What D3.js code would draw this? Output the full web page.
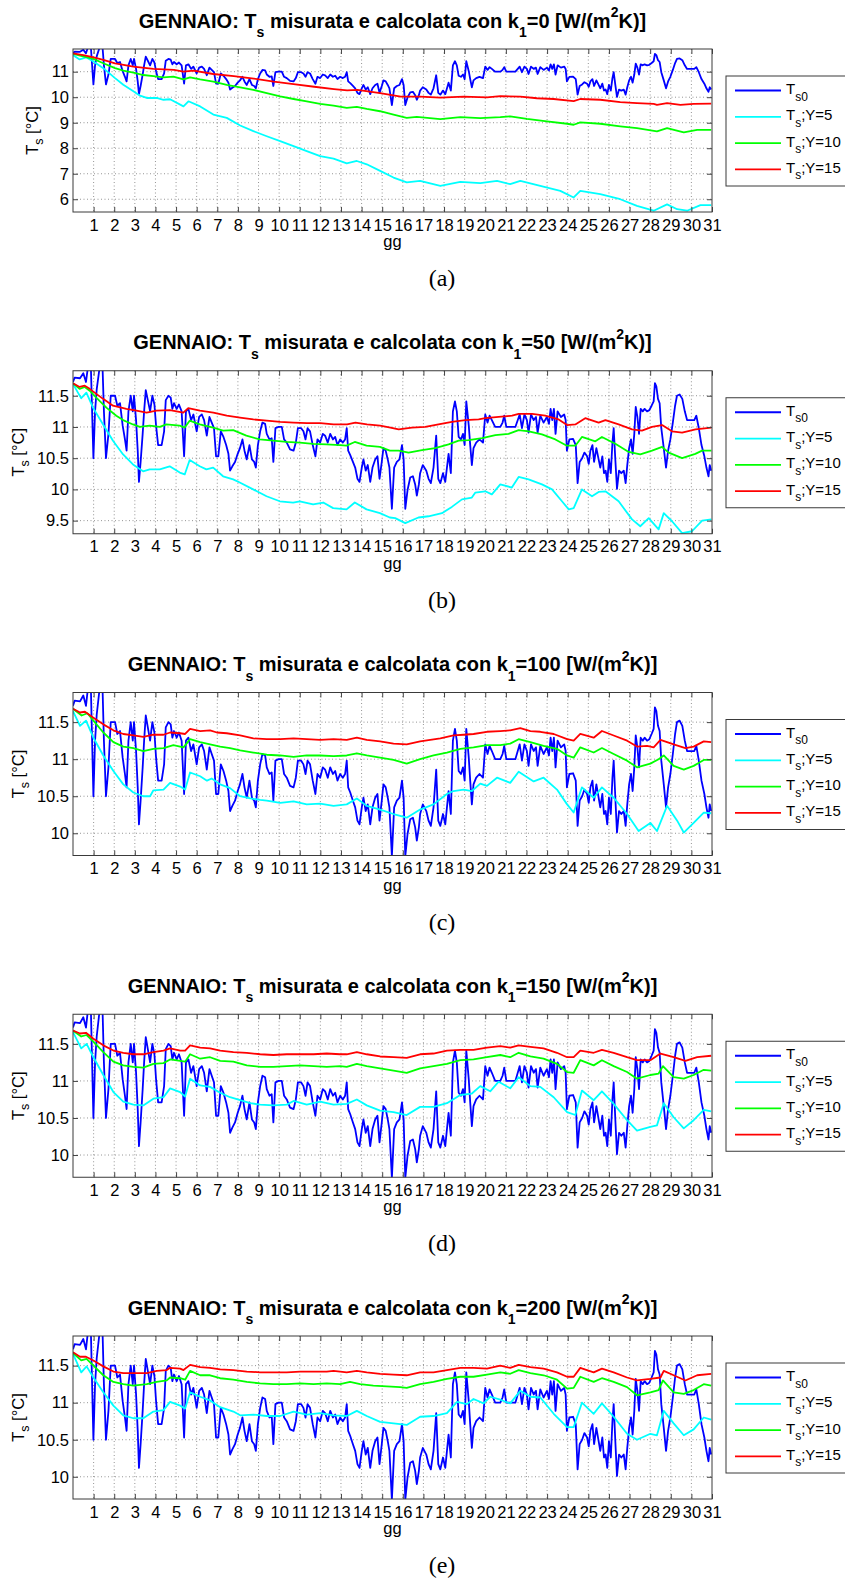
<!DOCTYPE html>
<html>
<head>
<meta charset="utf-8">
<script src="https://cdn.jsdelivr.net/npm/d3@7"></script>
<style>
  body { margin: 0; background: #fff; }
  svg { display: block; }
  text { font-family: "Liberation Sans", Arial, sans-serif; fill: #000; }
</style>
</head>
<body>
<script>
// measured surface temperature (same in every panel), [day, °C]
var ts0 = [[0,11.72],[0.08,11.79],[0.34,11.78],[0.5,11.86],[0.63,11.72],[0.74,12.0],[0.86,12.05],[0.99,10.5],[1.07,11.25],[1.15,11.6],[1.31,12.0],[1.42,12.1],[1.5,11.25],[1.6,10.5],[1.72,10.89],[1.83,11.5],[2.04,11.5],[2.15,11.34],[2.28,11.38],[2.41,11.02],[2.52,10.8],[2.6,10.62],[2.69,11.25],[2.8,11.5],[2.9,11.25],[2.96,11.5],[3.06,11.11],[3.14,10.62],[3.2,10.12],[3.28,10.44],[3.38,10.89],[3.45,11.25],[3.53,11.59],[3.63,11.43],[3.74,11.25],[3.85,11.5],[3.95,11.36],[4.03,11.02],[4.13,10.71],[4.3,10.71],[4.42,10.93],[4.5,11.43],[4.63,11.5],[4.74,11.47],[4.82,11.29],[4.9,11.38],[5.03,11.29],[5.14,11.36],[5.27,11.25],[5.39,10.53],[5.48,11.25],[5.6,11.29],[5.73,11.11],[5.84,11.2],[6.0,10.93],[6.12,11.16],[6.25,11.2],[6.36,11.11],[6.49,10.86],[6.62,11.16],[6.73,11.07],[6.84,10.98],[6.94,10.53],[7.05,10.53],[7.17,10.93],[7.3,10.84],[7.43,10.71],[7.54,10.57],[7.62,10.3],[7.73,10.37],[7.86,10.44],[7.99,10.57],[8.1,10.66],[8.22,10.8],[8.32,10.62],[8.43,10.48],[8.56,10.71],[8.68,10.48],[8.79,10.44],[8.87,10.35],[8.97,10.71],[9.08,10.93],[9.19,11.07],[9.32,11.05],[9.4,10.89],[9.53,10.8],[9.64,10.82],[9.72,10.44],[9.82,10.98],[9.97,11.0],[10.13,11.0],[10.24,10.8],[10.37,10.75],[10.53,10.64],[10.7,10.62],[10.81,10.75],[10.91,10.98],[11.07,10.98],[11.18,10.93],[11.28,10.8],[11.38,10.98],[11.5,10.93],[11.63,10.71],[11.76,10.53],[11.86,10.8],[11.99,10.75],[12.12,10.89],[12.23,10.86],[12.36,10.75],[12.48,10.89],[12.61,10.8],[12.72,10.84],[12.83,10.71],[12.96,10.8],[13.09,10.75],[13.2,10.8],[13.28,10.98],[13.35,10.62],[13.45,10.55],[13.58,10.44],[13.69,10.35],[13.8,10.17],[13.9,10.12],[14.01,10.35],[14.09,10.48],[14.2,10.3],[14.3,10.39],[14.42,10.12],[14.53,10.35],[14.66,10.48],[14.77,10.53],[14.87,10.17],[14.98,10.44],[15.06,10.66],[15.17,10.62],[15.27,10.48],[15.35,10.35],[15.47,9.69],[15.58,10.35],[15.71,10.44],[15.84,10.48],[15.96,10.71],[16.04,10.48],[16.12,9.69],[16.23,9.99],[16.36,10.19],[16.49,10.21],[16.6,10.08],[16.68,9.9],[16.78,10.08],[16.84,10.26],[16.97,10.39],[17.14,10.3],[17.25,10.17],[17.36,10.1],[17.49,10.35],[17.62,10.86],[17.72,10.17],[17.82,10.1],[17.95,10.26],[18.06,10.12],[18.22,10.57],[18.33,10.26],[18.43,11.25],[18.53,11.41],[18.62,11.25],[18.71,10.84],[18.82,10.8],[18.92,10.89],[19.0,10.71],[19.08,11.41],[19.2,11.02],[19.27,10.71],[19.35,10.39],[19.43,10.66],[19.56,10.75],[19.72,10.8],[19.89,10.75],[20.0,11.2],[20.11,11.07],[20.21,11.18],[20.32,11.11],[20.48,11.0],[20.73,11.0],[20.84,11.07],[20.92,11.18],[21.02,11.0],[21.21,11.0],[21.46,11.0],[21.67,11.2],[21.78,10.98],[21.9,11.2],[22.02,11.11],[22.1,10.91],[22.22,11.2],[22.35,11.11],[22.46,11.16],[22.54,10.91],[22.67,11.18],[22.83,11.07],[22.99,11.16],[23.09,11.05],[23.17,11.29],[23.25,11.11],[23.33,11.29],[23.41,10.89],[23.51,11.25],[23.67,11.16],[23.83,11.2],[23.9,11.11],[23.96,10.62],[24.08,10.8],[24.26,10.81],[24.39,10.71],[24.48,10.1],[24.58,10.44],[24.7,10.5],[24.81,10.59],[24.94,10.53],[25.02,10.41],[25.1,10.62],[25.2,10.71],[25.28,10.44],[25.39,10.66],[25.5,10.48],[25.58,10.35],[25.68,10.53],[25.76,10.26],[25.84,10.3],[25.92,10.12],[26.0,10.48],[26.09,10.26],[26.17,10.75],[26.23,10.98],[26.31,10.48],[26.39,10.01],[26.49,10.3],[26.6,10.26],[26.72,10.3],[26.81,10.1],[26.89,10.39],[26.98,10.66],[27.07,10.8],[27.15,10.57],[27.23,10.89],[27.3,11.32],[27.38,11.16],[27.46,10.89],[27.54,11.29],[27.64,11.25],[27.73,11.29],[27.85,11.25],[27.96,11.27],[28.07,11.34],[28.17,11.41],[28.23,11.7],[28.3,11.65],[28.38,11.45],[28.46,11.38],[28.54,10.98],[28.66,10.66],[28.77,10.35],[28.87,10.62],[28.98,10.8],[29.1,11.07],[29.21,11.34],[29.3,11.5],[29.43,11.52],[29.56,11.45],[29.68,11.25],[29.79,11.11],[29.98,11.11],[30.14,11.11],[30.24,11.18],[30.36,10.98],[30.49,10.71],[30.63,10.53],[30.73,10.35],[30.83,10.21],[30.89,10.39],[30.96,10.3]];

// k1 = 0
var k0Y5 = [[0,11.65],[0.32,11.48],[0.65,11.56],[0.99,11.4],[1.47,11.14],[2.04,10.75],[2.44,10.49],[2.93,10.23],[3.25,10.06],[3.58,9.97],[4.06,9.97],[4.39,9.9],[4.71,9.92],[5.36,9.64],[5.6,9.84],[6.17,9.64],[6.81,9.32],[7.46,9.19],[8.11,8.89],[8.75,8.67],[9.4,8.47],[10.05,8.28],[10.7,8.08],[11.34,7.89],[11.99,7.69],[12.64,7.59],[13.28,7.41],[13.77,7.5],[14.25,7.37],[14.9,7.11],[15.55,6.85],[16.19,6.66],[16.84,6.72],[17.82,6.52],[18.79,6.68],[19.76,6.63],[20.57,6.72],[21.21,6.59],[21.7,6.72],[22.67,6.52],[23.64,6.33],[24.29,6.07],[24.61,6.33],[25.58,6.2],[26.55,6.0],[27.36,5.74],[28.17,5.55],[28.82,5.8],[29.31,5.61],[29.79,5.55],[30.44,5.77],[30.96,5.77]];
var k0Y10 = [[0,11.7],[0.49,11.6],[0.99,11.5],[1.47,11.33],[2.04,11.14],[2.44,11.04],[2.93,10.96],[3.41,10.87],[3.9,10.83],[4.39,10.78],[4.87,10.81],[5.36,10.7],[5.68,10.78],[6.17,10.7],[6.81,10.61],[7.46,10.48],[8.11,10.39],[8.75,10.29],[9.4,10.16],[10.05,10.03],[10.7,9.93],[11.34,9.84],[11.99,9.74],[12.64,9.67],[13.28,9.58],[13.77,9.62],[14.25,9.54],[14.9,9.45],[15.55,9.32],[16.19,9.19],[16.68,9.23],[17.82,9.14],[18.79,9.22],[19.76,9.18],[20.73,9.22],[21.21,9.25],[22.02,9.15],[22.99,9.05],[23.97,8.96],[24.29,8.92],[24.61,9.01],[25.58,8.96],[26.55,8.86],[27.36,8.79],[28.33,8.66],[28.82,8.79],[29.63,8.62],[30.28,8.72],[30.96,8.72]];
var k0Y15 = [[0,11.72],[0.5,11.65],[1,11.56],[1.47,11.46],[2.04,11.33],[2.93,11.2],[3.9,11.11],[4.9,11.07],[5.36,11.0],[5.85,11.04],[6.8,10.91],[7.8,10.83],[8.77,10.73],[9.74,10.61],[10.7,10.51],[11.7,10.41],[12.66,10.32],[13.3,10.27],[13.8,10.29],[14.9,10.16],[15.9,10.02],[16.84,10.02],[17.82,9.98],[18.95,10.02],[20.08,9.99],[20.73,10.04],[21.7,10.02],[22.51,9.96],[23.32,9.93],[24.29,9.85],[24.61,9.93],[25.58,9.9],[26.55,9.81],[27.36,9.77],[28.17,9.74],[28.33,9.7],[28.82,9.77],[29.47,9.7],[30.11,9.74],[30.96,9.75]];

// k1 = 50
var k50Y5 = [[0,11.69],[0.24,11.55],[0.4,11.46],[0.65,11.55],[0.97,11.31],[1.46,11.04],[1.94,10.78],[2.43,10.56],[2.91,10.4],[3.4,10.29],[3.72,10.32],[4.21,10.32],[4.69,10.37],[5.18,10.27],[5.42,10.24],[5.66,10.47],[6.15,10.37],[6.47,10.32],[6.8,10.35],[7.28,10.21],[7.77,10.16],[8.09,10.11],[8.74,10.0],[9.39,9.89],[10.03,9.81],[10.68,9.79],[11.0,9.81],[11.65,9.76],[12.14,9.79],[12.62,9.7],[13.27,9.68],[13.67,9.79],[14.24,9.68],[14.89,9.62],[15.37,9.55],[15.63,9.54],[16.12,9.46],[16.76,9.55],[17.25,9.57],[17.9,9.62],[18.38,9.72],[18.87,9.84],[19.35,9.87],[19.52,9.95],[20.0,9.97],[20.32,9.92],[20.73,10.08],[21.29,10.03],[21.62,10.2],[22.1,10.16],[22.75,10.08],[23.24,10.0],[23.72,9.81],[24.05,9.68],[24.29,9.7],[24.69,10.0],[25.18,9.89],[25.5,9.96],[25.83,9.97],[26.47,9.81],[27.12,9.52],[27.52,9.41],[27.93,9.54],[28.41,9.36],[28.66,9.62],[29.06,9.49],[29.55,9.3],[30.03,9.33],[30.52,9.5],[30.97,9.52]];
var k50Y10 = [[0,11.7],[0.32,11.61],[0.57,11.64],[0.81,11.58],[1.13,11.47],[1.62,11.31],[2.1,11.18],[2.43,11.11],[2.91,11.04],[3.24,11.0],[3.72,11.02],[4.21,11.0],[4.53,11.04],[5.18,11.02],[5.42,10.99],[5.66,11.1],[6.15,11.04],[6.8,10.99],[7.28,10.94],[7.77,10.95],[8.41,10.86],[9.06,10.8],[9.71,10.78],[10.36,10.76],[11.0,10.75],[11.65,10.73],[12.3,10.72],[12.94,10.71],[13.27,10.7],[13.67,10.76],[14.24,10.7],[14.89,10.68],[15.37,10.62],[15.8,10.62],[16.28,10.59],[16.93,10.63],[17.57,10.66],[18.22,10.72],[18.71,10.78],[19.19,10.79],[19.85,10.82],[20.49,10.87],[21.13,10.89],[21.62,10.95],[22.11,10.93],[22.75,10.88],[23.4,10.8],[23.96,10.7],[24.37,10.7],[24.69,10.84],[25.34,10.77],[25.66,10.84],[26.31,10.73],[26.96,10.6],[27.52,10.56],[28.09,10.62],[28.58,10.68],[28.9,10.59],[29.55,10.5],[30.19,10.57],[30.52,10.62],[30.97,10.62]];
var k50Y15 = [[0,11.7],[0.32,11.64],[0.57,11.66],[0.81,11.61],[1.13,11.53],[1.46,11.45],[1.94,11.34],[2.59,11.29],[3.08,11.26],[3.57,11.23],[4.05,11.26],[4.7,11.27],[5.35,11.23],[5.59,11.3],[6.16,11.26],[6.81,11.23],[7.46,11.18],[8.1,11.15],[8.75,11.12],[9.4,11.1],[10.05,11.08],[10.7,11.07],[11.35,11.06],[12.0,11.06],[12.64,11.04],[13.3,11.04],[13.7,11.07],[14.26,11.04],[14.9,11.02],[15.4,10.99],[15.8,10.96],[16.44,10.99],[17.09,11.0],[17.73,11.04],[18.38,11.08],[19.03,11.11],[19.68,11.12],[20.0,11.14],[20.65,11.16],[21.3,11.18],[21.62,11.21],[22.27,11.21],[22.91,11.18],[23.56,11.12],[23.97,11.03],[24.37,11.04],[24.85,11.14],[25.5,11.07],[25.83,11.11],[26.47,11.04],[27.12,10.96],[27.6,10.94],[28.09,11.0],[28.58,11.03],[29.06,10.93],[29.55,10.91],[30.2,10.96],[30.97,10.99]];

// k1 = 100
var k100Y5 = [[0,11.65],[0.34,11.45],[0.63,11.52],[0.99,11.29],[1.47,11.05],[1.96,10.84],[2.44,10.66],[2.93,10.55],[3.41,10.5],[3.74,10.5],[3.9,10.58],[4.39,10.59],[4.71,10.68],[5.2,10.63],[5.44,10.59],[5.68,10.82],[6.17,10.77],[6.5,10.71],[6.73,10.74],[7.14,10.66],[7.62,10.61],[8.11,10.5],[8.6,10.47],[9.08,10.45],[9.4,10.44],[10.05,10.41],[10.7,10.43],[11.34,10.39],[11.99,10.4],[12.64,10.37],[13.28,10.39],[13.77,10.47],[14.25,10.37],[14.9,10.32],[15.55,10.26],[16.19,10.21],[16.84,10.32],[17.49,10.39],[18.14,10.53],[18.46,10.57],[18.95,10.59],[19.35,10.57],[19.76,10.67],[20.08,10.64],[20.57,10.75],[21.21,10.68],[21.62,10.83],[22.35,10.7],[22.83,10.75],[23.48,10.59],[23.97,10.39],[24.29,10.28],[24.69,10.62],[25.26,10.48],[25.66,10.62],[26.23,10.48],[26.88,10.26],[27.44,10.03],[28.01,10.14],[28.33,10.03],[28.82,10.37],[29.31,10.17],[29.63,10.01],[30.11,10.14],[30.6,10.28],[30.96,10.27]];
var k100Y10 = [[0,11.68],[0.42,11.59],[0.7,11.62],[0.99,11.52],[1.47,11.36],[1.96,11.23],[2.44,11.17],[2.93,11.15],[3.41,11.11],[3.9,11.14],[4.39,11.15],[4.87,11.19],[5.36,11.16],[5.68,11.27],[6.17,11.23],[6.65,11.2],[7.14,11.17],[7.62,11.15],[8.11,11.12],[8.75,11.09],[9.4,11.06],[10.05,11.05],[10.7,11.03],[11.34,11.05],[11.99,11.05],[12.64,11.04],[13.28,11.05],[13.77,11.08],[14.25,11.05],[14.9,11.02],[15.55,10.99],[16.19,10.94],[16.84,11.0],[17.49,11.05],[18.14,11.09],[18.79,11.14],[19.43,11.16],[20.08,11.19],[20.73,11.19],[21.21,11.21],[21.62,11.27],[22.19,11.23],[22.83,11.18],[23.48,11.14],[23.97,11.05],[24.29,11.02],[24.61,11.16],[25.26,11.09],[25.66,11.15],[26.23,11.07],[26.88,10.98],[27.36,10.89],[28.01,10.94],[28.41,11.0],[28.66,11.05],[29.14,10.91],[29.63,10.86],[30.11,10.91],[30.6,10.99],[30.96,10.99]];
var k100Y15 = [[0,11.68],[0.34,11.63],[0.58,11.64],[0.99,11.56],[1.47,11.47],[1.96,11.39],[2.44,11.34],[2.93,11.32],[3.41,11.3],[3.9,11.33],[4.39,11.33],[4.71,11.36],[5.2,11.35],[5.44,11.34],[5.68,11.41],[6.17,11.38],[6.65,11.39],[6.98,11.36],[7.46,11.35],[8.11,11.32],[8.75,11.28],[9.4,11.27],[10.05,11.27],[10.7,11.28],[11.34,11.27],[11.99,11.26],[12.64,11.27],[13.28,11.26],[13.77,11.29],[14.25,11.26],[14.9,11.24],[15.55,11.21],[16.19,11.2],[16.84,11.24],[17.33,11.26],[17.82,11.28],[18.46,11.32],[18.95,11.33],[19.43,11.34],[20.08,11.37],[20.73,11.38],[21.21,11.39],[21.7,11.42],[22.19,11.38],[22.67,11.37],[23.32,11.34],[23.97,11.27],[24.29,11.25],[24.61,11.34],[25.26,11.29],[25.66,11.38],[26.23,11.32],[26.88,11.25],[27.36,11.17],[27.85,11.18],[28.17,11.16],[28.5,11.26],[29.14,11.2],[29.71,11.15],[30.11,11.17],[30.6,11.24],[30.96,11.23]];

// k1 = 150
var k150Y5 = [[0,11.66],[0.4,11.44],[0.66,11.5],[0.99,11.32],[1.47,11.08],[1.96,10.85],[2.44,10.72],[2.93,10.68],[3.41,10.67],[3.9,10.76],[4.39,10.78],[4.71,10.9],[5.2,10.85],[5.44,10.79],[5.68,11.03],[6.17,10.94],[6.65,10.92],[7.14,10.84],[7.62,10.78],[8.11,10.74],[8.6,10.7],[9.08,10.68],[9.72,10.67],[10.37,10.68],[10.7,10.73],[11.34,10.68],[11.99,10.72],[12.64,10.68],[13.28,10.69],[13.77,10.75],[14.25,10.67],[14.9,10.6],[15.55,10.58],[16.19,10.54],[16.84,10.65],[17.49,10.65],[18.14,10.7],[18.79,10.81],[19.35,10.83],[19.76,10.93],[20.24,10.86],[20.65,10.99],[21.21,10.9],[21.62,11.05],[22.19,10.93],[22.67,10.92],[23.32,10.78],[23.97,10.58],[24.37,10.54],[24.69,10.87],[25.26,10.74],[25.66,10.86],[26.23,10.69],[26.88,10.47],[27.36,10.33],[28.01,10.38],[28.33,10.4],[28.66,10.7],[29.14,10.51],[29.63,10.36],[30.11,10.47],[30.6,10.61],[30.96,10.59]];
var k150Y10 = [[0,11.68],[0.4,11.6],[0.66,11.62],[0.99,11.53],[1.47,11.39],[1.96,11.26],[2.44,11.21],[2.93,11.19],[3.41,11.18],[3.9,11.23],[4.39,11.24],[4.71,11.29],[5.2,11.27],[5.44,11.26],[5.68,11.36],[6.17,11.3],[6.65,11.32],[7.14,11.27],[7.78,11.26],[8.43,11.21],[9.08,11.19],[9.72,11.19],[10.37,11.2],[11.02,11.21],[11.67,11.2],[12.31,11.19],[12.96,11.2],[13.28,11.19],[13.77,11.23],[14.25,11.2],[14.9,11.17],[15.55,11.14],[16.19,11.11],[16.84,11.17],[17.49,11.2],[18.14,11.23],[18.79,11.28],[19.43,11.29],[20.08,11.32],[20.73,11.35],[21.21,11.32],[21.62,11.38],[22.19,11.33],[22.83,11.3],[23.48,11.23],[23.97,11.12],[24.29,11.11],[24.61,11.28],[25.26,11.21],[25.66,11.28],[26.23,11.2],[26.88,11.12],[27.36,11.03],[28.01,11.08],[28.41,11.1],[28.62,11.2],[29.14,11.05],[29.63,11.03],[30.11,11.08],[30.6,11.15],[30.96,11.14]];
var k150Y15 = [[0,11.68],[0.34,11.64],[0.63,11.65],[0.99,11.57],[1.47,11.48],[1.96,11.41],[2.44,11.38],[2.93,11.36],[3.41,11.36],[3.9,11.39],[4.39,11.41],[4.71,11.44],[5.2,11.41],[5.44,11.41],[5.68,11.48],[6.17,11.45],[6.65,11.44],[7.14,11.41],[7.78,11.39],[8.43,11.38],[9.08,11.36],[9.72,11.35],[10.37,11.36],[11.02,11.36],[11.67,11.36],[12.31,11.37],[12.96,11.36],[13.28,11.36],[13.77,11.39],[14.25,11.36],[14.9,11.33],[15.55,11.32],[16.19,11.31],[16.84,11.36],[17.49,11.37],[18.14,11.41],[18.79,11.42],[19.43,11.42],[20.08,11.45],[20.73,11.47],[21.21,11.45],[21.62,11.48],[22.19,11.46],[22.83,11.44],[23.48,11.38],[23.97,11.32],[24.29,11.32],[24.61,11.41],[25.26,11.38],[25.66,11.42],[26.23,11.38],[26.88,11.32],[27.36,11.28],[28.01,11.28],[28.5,11.37],[29.14,11.32],[29.71,11.27],[30.28,11.32],[30.96,11.34]];

// k1 = 200
var k200Y5 = [[0,11.66],[0.4,11.41],[0.66,11.49],[0.99,11.34],[1.47,11.14],[1.96,10.96],[2.44,10.83],[2.93,10.79],[3.41,10.79],[3.9,10.88],[4.39,10.9],[4.71,11.01],[5.2,10.96],[5.44,10.92],[5.68,11.14],[6.17,11.08],[6.65,11.03],[7.14,10.94],[7.78,10.88],[8.11,10.83],[8.75,10.84],[9.4,10.82],[10.05,10.82],[10.7,10.88],[11.34,10.84],[11.99,10.86],[12.64,10.83],[13.28,10.82],[13.77,10.89],[14.25,10.82],[14.9,10.74],[15.55,10.72],[16.19,10.7],[16.84,10.81],[17.49,10.82],[18.14,10.86],[18.63,11.01],[19.11,10.98],[19.43,11.05],[19.92,10.99],[20.24,11.08],[20.73,11.04],[21.21,10.99],[21.7,11.16],[22.19,11.08],[22.67,11.07],[23.32,10.85],[23.97,10.67],[24.29,10.67],[24.69,11.0],[25.26,10.85],[25.66,10.99],[26.23,10.81],[26.88,10.58],[27.36,10.5],[28.01,10.58],[28.33,10.56],[28.66,10.89],[29.14,10.72],[29.63,10.56],[30.11,10.64],[30.6,10.8],[30.96,10.77]];
var k200Y10 = [[0,11.67],[0.4,11.57],[0.66,11.59],[0.99,11.5],[1.47,11.37],[1.96,11.28],[2.44,11.25],[2.93,11.23],[3.58,11.25],[4.06,11.28],[4.55,11.3],[4.71,11.34],[5.2,11.33],[5.44,11.31],[5.68,11.43],[6.17,11.37],[6.65,11.37],[7.14,11.33],[7.78,11.31],[8.43,11.28],[9.08,11.26],[9.72,11.25],[10.37,11.25],[11.02,11.26],[11.67,11.25],[12.31,11.26],[12.96,11.25],[13.44,11.28],[13.93,11.25],[14.57,11.23],[15.22,11.22],[15.87,11.21],[16.19,11.2],[16.84,11.25],[17.49,11.28],[18.14,11.32],[18.79,11.35],[19.43,11.35],[20.08,11.38],[20.73,11.41],[21.21,11.39],[21.62,11.44],[22.19,11.4],[22.83,11.37],[23.48,11.31],[23.97,11.19],[24.29,11.2],[24.61,11.35],[25.26,11.28],[25.66,11.33],[26.23,11.28],[26.88,11.21],[27.36,11.1],[28.01,11.14],[28.41,11.17],[28.62,11.3],[29.14,11.14],[29.63,11.12],[30.11,11.17],[30.6,11.25],[30.96,11.23]];
var k200Y15 = [[0,11.68],[0.34,11.62],[0.63,11.62],[0.99,11.57],[1.47,11.49],[1.96,11.42],[2.44,11.4],[2.93,11.4],[3.58,11.4],[4.06,11.43],[4.55,11.44],[4.71,11.47],[5.2,11.46],[5.36,11.44],[5.68,11.51],[6.17,11.48],[6.65,11.47],[7.14,11.45],[7.78,11.44],[8.43,11.42],[9.08,11.41],[9.72,11.41],[10.37,11.41],[11.02,11.42],[11.67,11.42],[12.31,11.42],[12.64,11.43],[13.28,11.41],[13.77,11.43],[14.25,11.41],[14.9,11.39],[15.55,11.38],[16.19,11.37],[16.84,11.41],[17.49,11.41],[18.14,11.44],[18.79,11.47],[19.43,11.47],[20.08,11.46],[20.73,11.5],[21.21,11.47],[21.62,11.51],[22.19,11.48],[22.83,11.46],[23.48,11.41],[23.97,11.35],[24.29,11.35],[24.61,11.47],[25.26,11.41],[25.66,11.46],[26.23,11.41],[26.88,11.34],[27.36,11.3],[28.01,11.32],[28.5,11.34],[28.66,11.43],[29.14,11.37],[29.71,11.3],[30.28,11.37],[30.96,11.39]];

var kValues = [0, 50, 100, 150, 200];
var captions = ["(a)", "(b)", "(c)", "(d)", "(e)"];
var yDomains = [[5.5, 11.89], [9.29, 11.9], [9.7, 11.9], [9.7, 11.9], [9.7, 11.9]];
var yTickValues = [[6, 7, 8, 9, 10, 11], [9.5, 10, 10.5, 11, 11.5], [10, 10.5, 11, 11.5], [10, 10.5, 11, 11.5], [10, 10.5, 11, 11.5]];
var xTickValues = d3.range(1, 32);
var modelSeries = [
  [k0Y5, k0Y10, k0Y15],
  [k50Y5, k50Y10, k50Y15],
  [k100Y5, k100Y10, k100Y15],
  [k150Y5, k150Y10, k150Y15],
  [k200Y5, k200Y10, k200Y15]
];
var legendLabels = [
  [["T", "n"], ["s0", "b"]],
  [["T", "n"], ["s", "b"], [";Y=5", "n"]],
  [["T", "n"], ["s", "b"], [";Y=10", "n"]],
  [["T", "n"], ["s", "b"], [";Y=15", "n"]]
];
var colors = ["#0000ff", "#00ffff", "#00ff00", "#ff0000"];

var width = 845, height = 1581;
var margin = {left: 73},
    plotW = 639,
    plotH = 163,
    panelStep = 321.75,
    firstTop = 49,
    fs = 16.5;

var svg = d3.select("body").append("svg")
  .attr("width", width)
  .attr("height", height);

// text with sub/superscripts, parts = [[string, "n"|"b"|"p"], ...]
function richText(el, parts, size, subSize, subShift, supShift) {
  var cur = 0;
  parts.forEach(function(p) {
    var target = p[1] === "b" ? subShift : (p[1] === "p" ? -supShift : 0);
    el.append("tspan")
      .attr("dy", target - cur)
      .style("font-size", (p[1] === "n" ? size : subSize) + "px")
      .text(p[0]);
    cur = target;
  });
  return el;
}

var x = d3.scaleLinear().domain([0, 31]).range([0, plotW]);

kValues.forEach(function(k, i) {
  var top = firstTop + i * panelStep;
  var g = svg.append("g").attr("transform", "translate(" + margin.left + "," + top + ")");
  var y = d3.scaleLinear().domain(yDomains[i]).range([plotH, 0]);

  g.append("clipPath").attr("id", "clip" + i)
    .append("rect").attr("width", plotW).attr("height", plotH);

  // grid
  g.append("g").selectAll("line").data(xTickValues.slice(0, -1)).enter().append("line")
    .attr("x1", function(d) { return x(d); }).attr("x2", function(d) { return x(d); })
    .attr("y1", 0).attr("y2", plotH)
    .attr("stroke", "#7a7a7a").attr("stroke-width", 0.8).attr("stroke-dasharray", "1,2.5");
  g.append("g").selectAll("line").data(yTickValues[i]).enter().append("line")
    .attr("x1", 0).attr("x2", plotW)
    .attr("y1", function(d) { return y(d); }).attr("y2", function(d) { return y(d); })
    .attr("stroke", "#7a7a7a").attr("stroke-width", 0.8).attr("stroke-dasharray", "1,2.5");

  // series
  var line = d3.line().x(function(d) { return x(d[0]); }).y(function(d) { return y(d[1]); });
  var lines = g.append("g").attr("clip-path", "url(#clip" + i + ")");
  [ts0].concat(modelSeries[i]).forEach(function(s, j) {
    lines.append("path").datum(s)
      .attr("d", line)
      .attr("fill", "none")
      .attr("stroke", colors[j])
      .attr("stroke-width", 1.8)
      .attr("stroke-linejoin", "round");
  });

  // axes (inward ticks on all four sides)
  g.append("g").attr("transform", "translate(0," + plotH + ")")
    .call(d3.axisBottom(x).tickValues(xTickValues).tickSize(-5).tickPadding(6.8));
  g.append("g").call(d3.axisTop(x).tickValues(xTickValues).tickSize(-5).tickFormat(""));
  var yAxis = g.append("g")
    .call(d3.axisLeft(y).tickValues(yTickValues[i]).tickSize(-5).tickPadding(4).tickFormat(d3.format("")));
  g.append("g").attr("transform", "translate(" + plotW + ",0)")
    .call(d3.axisRight(y).tickValues(yTickValues[i]).tickSize(-5).tickFormat(""));
  g.selectAll(".domain").remove();
  g.selectAll(".tick line").attr("stroke", "#444");
  g.selectAll(".tick text").style("font-size", fs + "px").style("font-family", "'Liberation Sans', Arial, sans-serif").attr("fill", "#000");

  g.append("rect").attr("width", plotW).attr("height", plotH)
    .attr("fill", "none").attr("stroke", "#3a3a3a").attr("stroke-width", 1);

  // title
  var title = g.append("text")
    .attr("x", plotW / 2).attr("y", -21.5)
    .attr("text-anchor", "middle")
    .style("font-weight", "bold");
  richText(title, [["GENNAIO: T", "n"], ["s", "b"], [" misurata e calcolata con k", "n"], ["1", "b"],
    ["=" + k + " [W/(m", "n"], ["2", "p"], ["K)]", "n"]], 20, 14, 9.5, 10.5);

  // axis labels
  g.append("text").attr("x", plotW / 2).attr("y", plotH + 35)
    .attr("text-anchor", "middle").style("font-size", fs + "px").text("gg");

  var maxW = d3.max(yAxis.selectAll(".tick text").nodes(), function(n) { return n.getComputedTextLength(); });
  var yLab = g.append("text")
    .attr("transform", "translate(" + (-4 - maxW - 13) + "," + (plotH / 2) + ") rotate(-90)")
    .attr("text-anchor", "middle");
  richText(yLab, [["T", "n"], ["s", "b"], [" [°C]", "n"]], fs, 12.5, 5.5, 0);

  // legend
  var lg = g.append("g").attr("transform", "translate(" + (726 - margin.left) + ",27)");
  lg.append("rect").attr("width", 200).attr("height", 110)
    .attr("fill", "#fff").attr("stroke", "#3a3a3a").attr("stroke-width", 1);
  legendLabels.forEach(function(lab, j) {
    var ly = 14.5 + j * 26.3;
    lg.append("line").attr("x1", 9).attr("x2", 55).attr("y1", ly).attr("y2", ly)
      .attr("stroke", colors[j]).attr("stroke-width", 1.8);
    var t = lg.append("text").attr("x", 60).attr("y", ly + 3.5);
    richText(t, lab, 15, 12, 6.5, 0);
  });

  // caption
  g.append("text").attr("x", 442 - margin.left).attr("y", 237)
    .attr("text-anchor", "middle")
    .style("font-family", "'Liberation Serif', 'DejaVu Serif', serif")
    .style("font-size", "24px")
    .text(captions[i]);
});
</script>
</body>
</html>
